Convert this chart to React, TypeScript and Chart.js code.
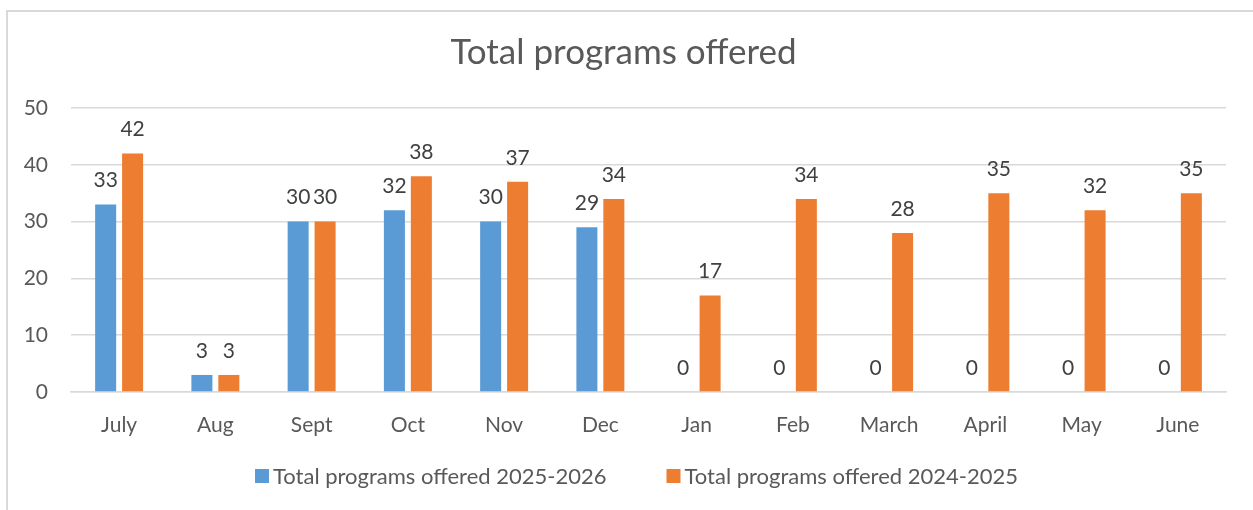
import React, { useEffect, useRef } from "react";
import { Chart, registerables } from "chart.js";

Chart.register(...registerables);

const months = ["July", "Aug", "Sept", "Oct", "Nov", "Dec", "Jan", "Feb", "March", "April", "May", "June"];
const programs2025_2026 = [33, 3, 30, 32, 30, 29, 0, 0, 0, 0, 0, 0];
const programs2024_2025 = [42, 3, 30, 38, 37, 34, 17, 34, 28, 35, 32, 35];
const seriesNames = ["Total programs offered 2025-2026", "Total programs offered 2024-2025"];
const yTicks = [0, 10, 20, 30, 40, 50];

const FONT = "Lato, 'Noto Sans', sans-serif";
const BLUE = "#5B9BD5";
const ORANGE = "#ED7D31";
const TEXT = "#595959";
const GRID = "#D9D9D9";

const valueLabels = {
  id: "valueLabels",
  afterDatasetsDraw(chart: any) {
    const ctx = chart.ctx;
    ctx.save();
    ctx.font = `21px ${FONT}`;
    ctx.fillStyle = "#404040";
    ctx.textAlign = "center";
    ctx.textBaseline = "middle";
    chart.data.datasets.forEach((ds: any, i: number) => {
      const meta = chart.getDatasetMeta(i);
      meta.data.forEach((el: any, j: number) => {
        ctx.fillText(String(ds.data[j]), el.x, el.y - 24);
      });
    });
    ctx.restore();
  },
};

const customLegend = {
  id: "customLegend",
  afterDraw(chart: any) {
    const ctx = chart.ctx;
    ctx.save();
    ctx.font = `22px ${FONT}`;
    ctx.textBaseline = "middle";
    ctx.textAlign = "left";
    const box = 14;
    const gapText = 4;
    const gapItems = 60;
    const items = chart.data.datasets.map((ds: any) => ({
      label: ds.label,
      color: ds.backgroundColor,
      w: box + gapText + ctx.measureText(ds.label).width,
    }));
    const total = items.reduce((s: number, it: any) => s + it.w, 0) + gapItems * (items.length - 1);
    let x = chart.width / 2 + 10 - total / 2;
    const y = 476;
    items.forEach((it: any) => {
      ctx.fillStyle = it.color;
      ctx.fillRect(x, y - box / 2, box, box);
      ctx.fillStyle = TEXT;
      ctx.fillText(it.label, x + box + gapText, y + 1);
      x += it.w + gapItems;
    });
    ctx.restore();
  },
};

export default function App() {
  const ref = useRef<HTMLCanvasElement>(null);
  useEffect(() => {
    if (!ref.current) return;
    const chart = new Chart(ref.current, {
      type: "bar",
      data: {
        labels: months,
        datasets: [
          { label: seriesNames[0], data: programs2025_2026, backgroundColor: BLUE, categoryPercentage: 0.56, barPercentage: 0.78 },
          { label: seriesNames[1], data: programs2024_2025, backgroundColor: ORANGE, categoryPercentage: 0.56, barPercentage: 0.78 },
        ],
      },
      options: {
        animation: false,
        responsive: true,
        maintainAspectRatio: false,
        layout: { padding: { left: 21, right: 27, top: 0, bottom: 58 } },
        plugins: {
          legend: { display: false },
          tooltip: { enabled: false },
          title: {
            display: true,
            text: "Total programs offered",
            color: TEXT,
            font: { family: FONT, size: 35, weight: "normal" },
            padding: { top: 32, bottom: 34 },
          },
        },
        scales: {
          x: {
            grid: { display: false, drawTicks: false },
            border: { display: true, color: GRID, width: 1.5 },
            ticks: { color: TEXT, font: { family: FONT, size: 21 }, padding: 21 },
            afterFit: (s: any) => { s.height = 60; },
          },
          y: {
            min: 0,
            max: 50,
            afterBuildTicks: (s: any) => { s.ticks = yTicks.map((v) => ({ value: v })); },
            grid: { color: GRID, lineWidth: 1.5, drawTicks: false },
            border: { display: false },
            ticks: { color: TEXT, font: { family: FONT, size: 21 }, padding: 23 },
            afterFit: (s: any) => { s.width = 50; },
          },
        },
      },
      plugins: [valueLabels, customLegend],
    });
    return () => chart.destroy();
  }, []);
  return (
    <div style={{ position: "fixed", left: 0, top: 0, width: 1253, height: 510, background: "#fff" }}>
      <canvas ref={ref} />
      <div
        style={{
          position: "absolute",
          left: 6,
          top: 10,
          width: 1247,
          height: 500,
          borderLeft: "2px solid #D9D9D9",
          borderTop: "2px solid #D9D9D9",
          boxSizing: "border-box",
          pointerEvents: "none",
        }}
      />
    </div>
  );
}
